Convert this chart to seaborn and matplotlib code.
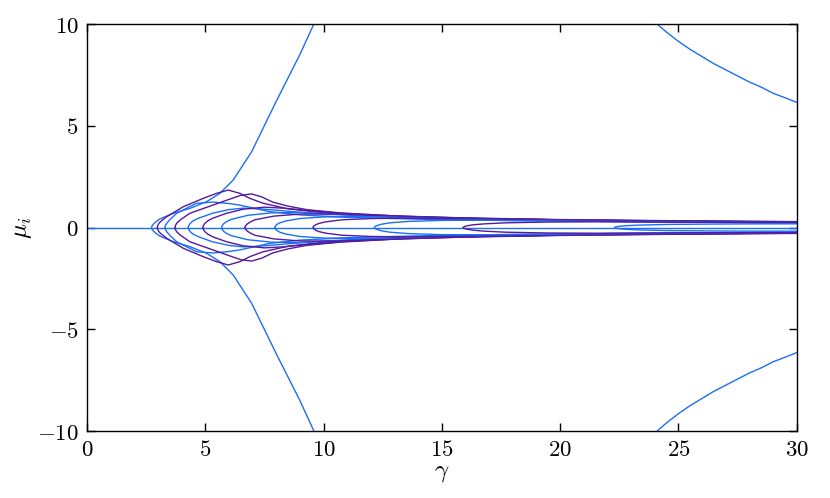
import numpy as np
import pandas as pd
import matplotlib
matplotlib.use("Agg")
import matplotlib.pyplot as plt
import seaborn as sns

# upper branches of mu_i(gamma); lower branches are the mirror image
c1_g = [2.73, 2.75, 2.8, 2.9, 3.08, 3.65, 4.35, 5.06, 5.62, 6.18, 6.96, 8.0, 9.0, 9.75]
c1_m = [0.0, 0.08, 0.16, 0.27, 0.42, 0.70, 0.94, 1.27, 1.68, 2.33, 3.72, 6.2, 8.5, 10.4]

c2_g = [2.97, 2.99, 3.05, 3.15, 3.37, 4.07, 4.91, 5.48, 5.97, 6.46, 6.89, 7.45, 8.5, 10, 12, 15, 20, 25, 30]
c2_m = [0.0, 0.1, 0.22, 0.33, 0.53, 1.02, 1.43, 1.68, 1.84, 1.68, 1.43, 1.19, 0.92, 0.72, 0.58, 0.47, 0.37, 0.31, 0.27]

c3_g = [3.30, 3.32, 3.38, 3.5, 3.79, 4.63, 5.33, 6.0, 6.46, 7.73, 9, 11, 14, 18, 24, 30]
c3_m = [0.0, 0.1, 0.22, 0.38, 0.7, 1.19, 1.25, 1.18, 1.1, 0.78, 0.62, 0.5, 0.41, 0.34, 0.28, 0.24]

c4_g = [3.72, 3.74, 3.8, 3.95, 4.35, 5.2, 6.0, 6.5, 6.96, 7.4, 7.85, 8.5, 9.28, 10.69, 13.2, 16, 20, 25, 30]
c4_m = [0.0, 0.1, 0.22, 0.38, 0.70, 1.05, 1.38, 1.58, 1.65, 1.5, 1.25, 1.05, 0.88, 0.72, 0.56, 0.46, 0.38, 0.32, 0.28]

c5_g = [4.28, 4.3, 4.36, 4.48, 4.7, 5.3, 6.0, 6.6, 7.3, 8.5, 10, 12, 15, 20, 25, 30]
c5_m = [0.0, 0.09, 0.2, 0.32, 0.45, 0.7, 0.88, 0.95, 0.92, 0.8, 0.66, 0.55, 0.45, 0.36, 0.3, 0.26]

c6_g = [4.90, 4.92, 4.98, 5.1, 5.3, 5.9, 6.6, 7.5, 8.3, 9.5, 11, 13, 16, 20, 25, 30]
c6_m = [0.0, 0.09, 0.2, 0.32, 0.45, 0.7, 0.9, 1.0, 0.95, 0.82, 0.68, 0.57, 0.47, 0.39, 0.33, 0.29]

c7_g = [5.69, 5.71, 5.77, 5.9, 6.1, 6.8, 7.8, 9, 10.5, 12.5, 15, 20, 25, 30]
c7_m = [0.0, 0.08, 0.18, 0.29, 0.4, 0.6, 0.72, 0.74, 0.66, 0.55, 0.46, 0.36, 0.3, 0.26]

c8_g = [6.68, 6.7, 6.77, 6.9, 7.1, 7.9, 9, 10.5, 12, 14, 17, 21, 25, 30]
c8_m = [0.0, 0.08, 0.17, 0.27, 0.38, 0.56, 0.66, 0.67, 0.6, 0.52, 0.43, 0.36, 0.31, 0.27]

c9_g = [7.94, 7.96, 8.03, 8.15, 8.4, 9, 10, 11.5, 13, 15, 18, 22, 26, 30]
c9_m = [0.0, 0.07, 0.15, 0.23, 0.32, 0.44, 0.52, 0.54, 0.5, 0.44, 0.37, 0.31, 0.27, 0.24]

c10_g = [9.56, 9.58, 9.66, 9.8, 10.1, 10.8, 12, 13.5, 15, 17, 20, 24, 30]
c10_m = [0.0, 0.06, 0.13, 0.2, 0.28, 0.38, 0.44, 0.46, 0.44, 0.4, 0.35, 0.3, 0.26]

c11_g = [12.15, 12.18, 12.27, 12.45, 12.8, 13.6, 15, 16.5, 18.5, 21, 25, 30]
c11_m = [0.0, 0.05, 0.1, 0.16, 0.23, 0.3, 0.35, 0.36, 0.34, 0.31, 0.27, 0.23]

c12_g = [15.9, 15.94, 16.05, 16.3, 16.8, 17.7, 19.5, 21.5, 24, 27, 30]
c12_m = [0.0, 0.04, 0.08, 0.13, 0.18, 0.23, 0.27, 0.28, 0.27, 0.25, 0.23]

c13_g = [22.3, 22.35, 22.5, 22.8, 23.4, 24.5, 26.5, 28.5, 30]
c13_m = [0.0, 0.03, 0.06, 0.09, 0.12, 0.15, 0.17, 0.18, 0.18]

# branch coming down from large mu at the right
far_g = [24.1, 24.5, 25, 25.5, 26, 26.5, 27, 27.5, 28, 28.5, 29, 29.5, 30]
far_m = [10.0, 9.6, 9.15, 8.75, 8.4, 8.05, 7.75, 7.45, 7.15, 6.9, 6.6, 6.38, 6.15]

# eigenvalue that stays at zero
zero_g = [0, 30]
zero_m = [0, 0]

curves = [
    (c1_g, c1_m, "blue"), (c2_g, c2_m, "purple"), (c3_g, c3_m, "blue"),
    (c4_g, c4_m, "purple"), (c5_g, c5_m, "blue"), (c6_g, c6_m, "purple"),
    (c7_g, c7_m, "blue"), (c8_g, c8_m, "purple"), (c9_g, c9_m, "blue"),
    (c10_g, c10_m, "purple"), (c11_g, c11_m, "blue"), (c12_g, c12_m, "purple"),
    (c13_g, c13_m, "blue"), (far_g, far_m, "blue"),
]
colors = {"blue": "#1a6ff5", "purple": "#55199e"}

sns.set_style("ticks")
plt.rcParams["mathtext.fontset"] = "cm"
plt.rcParams["font.family"] = ["DejaVu Serif"]
plt.rcParams["text.color"] = "black"
plt.rcParams["axes.labelcolor"] = "black"
plt.rcParams["xtick.color"] = "black"
plt.rcParams["ytick.color"] = "black"
plt.rcParams["axes.edgecolor"] = "black"

fig = plt.figure(figsize=(8.3, 4.98), dpi=100)
ax = fig.add_axes([0.1048, 0.1345, 0.855, 0.8173])

sns.lineplot(x=zero_g, y=zero_m, ax=ax, color=colors["blue"], lw=1.0)
for g, m, c in curves:
    df = pd.DataFrame({"gamma": g, "mu": m})
    for sign in (1, -1):
        sns.lineplot(x=df["gamma"], y=sign * df["mu"], ax=ax, sort=False,
                     estimator=None, color=colors[c], lw=1.0)

ax.set_xlim(0, 30)
ax.set_ylim(-10, 10)
ax.set_xticks([0, 5, 10, 15, 20, 25, 30])
ax.set_yticks([-10, -5, 0, 5, 10])
ax.set_xticklabels([f"${v}$" for v in [0, 5, 10, 15, 20, 25, 30]], fontsize=16.5)
ax.set_yticklabels([f"${v}$" for v in [-10, -5, 0, 5, 10]], fontsize=16.5)
ax.tick_params(direction="in", length=6, width=1, top=True, right=True, pad=6)
for s in ax.spines.values():
    s.set_linewidth(1.0)
    s.set_visible(True)
ax.set_xlabel(r"$\gamma$", fontsize=18, labelpad=0)
ax.set_ylabel(r"$\mu_i$", fontsize=18, labelpad=2)

fig.savefig("out.png", dpi=100)
